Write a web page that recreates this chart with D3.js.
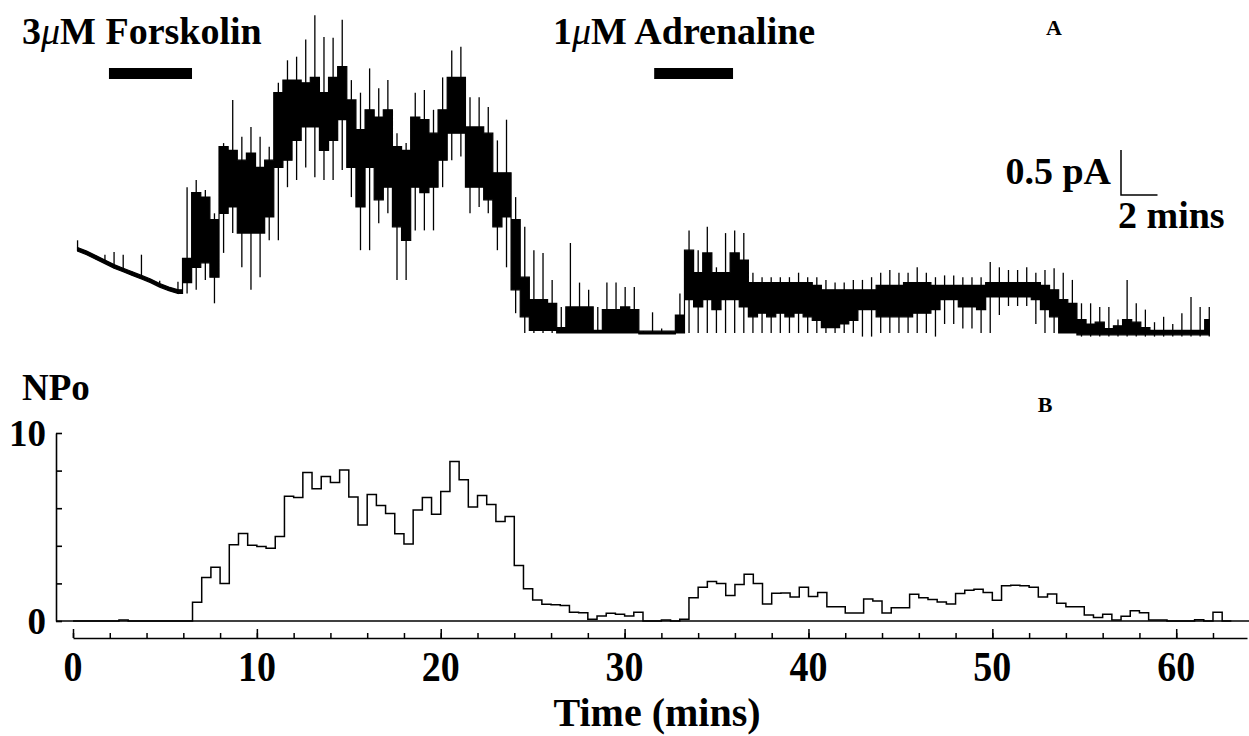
<!DOCTYPE html>
<html><head><meta charset="utf-8">
<script src="https://cdn.jsdelivr.net/npm/d3@7/dist/d3.min.js"></script>
<style>
body{margin:0;background:#fff}
svg{display:block}
text{font-family:"Liberation Serif","Times New Roman",serif;font-weight:bold;fill:#000}
</style>
</head><body>
<svg id="chart" width="1249" height="736"></svg>
<script>
// ---------- DATA ----------
const binWidth = 0.5; // minutes per bin

// Panel B: NPo per 0.5-min bin, bins starting at t = 0, 0.5, 1.0 ...
const npo = [
 0,0,0,0,0,0.05,0,0,0,0,0,0,0,
 1.0,2.31,2.86,2.0,4.05,4.65,4.03,3.96,3.87,4.49,6.63,6.57,7.9,7.03,7.69,7.37,8.03,
 6.6,5.1,6.73,6.15,5.72,4.64,4.1,5.9,6.57,5.68,6.89,8.49,7.51,6.07,6.68,6.2,5.29,5.56,
 2.95,1.71,1.12,0.89,0.87,0.82,0.46,0.44,0.09,0.27,0.41,0.36,0.27,0.46,
 0,0,0.05,0,0.09,
 1.24,1.79,2.1,2.0,1.35,1.94,2.49,2.0,0.9,1.47,1.49,1.28,1.79,1.3,1.51,
 0.76,0.76,0.43,0.43,1.17,1.07,0.43,0.71,0.71,1.42,1.24,1.15,1.01,0.9,
 1.46,1.63,1.69,1.51,1.1,1.87,1.9,1.88,1.79,1.28,1.44,0.94,0.76,0.76,
 0.32,0.18,0.36,0.05,0.25,0.55,0.44,0.05,0.05,0,0,0,0.07,0,0.46,0
];

// Panel A: current trace (pA above closed level), per 0.5-min bin
const traceCoreHi = [
 0.95,0.91,0.86,0.81,0.76,0.72,0.68,0.64,0.60,0.55,0.51,0.48,
 0.83,1.56,1.51,1.26,2.07,2.03,1.92,2.00,1.84,1.92,2.67,2.81,2.81,2.78,2.84,2.67,2.84,2.96,
 2.59,2.26,2.48,2.40,2.48,2.07,2.03,2.40,2.37,2.22,2.48,2.84,2.84,2.29,2.29,2.22,1.78,1.78,
 1.26,0.62,0.37,0.37,0.33,0.06,0.29,0.29,0.29,0.03,0.26,0.26,0.29,0.26,
 0.02,0.02,0.02,0.02,0.20,
 0.92,0.67,0.89,0.67,0.67,0.89,0.81,0.56,0.56,0.56,0.56,0.56,0.56,0.56,0.53,
 0.48,0.48,0.48,0.48,0.48,0.48,0.53,0.53,0.53,0.56,0.56,0.56,0.53,0.53,0.53,0.53,0.53,0.53,
 0.56,0.56,0.56,0.56,0.56,0.56,0.53,0.48,0.37,0.33,
 0.15,0.10,0.12,0.05,0.08,0.15,0.12,0.06,0.03,0.03,0.03,0.03,0.03,0.03,0.15
];
const traceCoreLo = [
 0.91,0.87,0.82,0.77,0.72,0.68,0.64,0.60,0.56,0.51,0.47,0.44,
 0.56,0.73,0.78,0.62,1.33,1.40,1.11,1.11,1.11,1.29,1.84,1.92,2.14,2.29,2.29,2.03,2.14,2.37,
 1.84,1.40,1.84,1.48,1.62,1.18,1.03,1.62,1.56,1.62,1.92,2.22,2.22,1.62,1.62,1.48,1.18,1.29,
 0.48,0.18,0.03,0.03,0.03,0,0,0,0,0,0,0,0,0,
 -0.01,-0.01,-0.01,-0.01,0,
 0.37,0.29,0.37,0.26,0.37,0.37,0.29,0.18,0.22,0.18,0.22,0.18,0.22,0.18,0.14,
 0.06,0.06,0.10,0.14,0.26,0.26,0.18,0.18,0.18,0.18,0.22,0.22,0.26,0.37,0.37,0.29,0.29,0.26,
 0.40,0.40,0.40,0.40,0.40,0.37,0.26,0.18,0,0,
 -0.02,-0.02,-0.02,-0.02,-0.02,-0.02,-0.02,-0.02,-0.02,-0.02,-0.02,-0.02,-0.02,-0.02,-0.02
];
const tracePeakHi = [
 1.03,0.91,0.86,0.87,0.90,0.87,0.68,0.87,0.60,0.58,0.51,0.57,
 1.62,1.70,1.59,1.33,2.11,2.59,2.18,2.29,2.18,2.07,2.78,3.03,3.07,3.26,3.53,3.29,3.28,3.48,
 2.81,2.67,2.94,2.72,2.81,2.22,2.11,2.67,2.70,2.48,2.84,3.14,3.18,2.62,2.62,2.51,2.14,2.37,
 1.51,1.18,0.92,0.89,0.59,0.29,1.00,0.56,0.48,0.29,0.56,0.56,0.51,0.51,
 0.02,0.23,0.05,0.02,0.44,
 1.14,0.92,1.18,0.73,1.11,1.14,1.11,0.67,0.62,0.62,0.62,0.62,0.67,0.62,0.62,
 0.59,0.56,0.56,0.59,0.59,0.62,0.67,0.70,0.67,0.67,0.73,0.67,0.62,0.64,0.64,0.62,0.62,0.62,
 0.79,0.73,0.70,0.70,0.73,0.67,0.70,0.72,0.67,0.59,
 0.33,0.33,0.29,0.29,0.15,0.59,0.33,0.26,0.12,0.18,0.10,0.22,0.40,0.29,0.29
];
const tracePeakLo = [
 0.91,0.87,0.82,0.77,0.72,0.68,0.64,0.60,0.56,0.51,0.47,0.44,
 0.44,0.48,0.59,0.33,0.89,1.11,0.73,0.48,0.62,1.03,1.03,1.62,1.70,1.84,1.73,1.70,1.70,1.81,
 1.51,0.92,0.92,1.22,1.33,0.59,0.59,1.14,1.14,1.14,1.62,1.92,1.96,1.33,1.40,1.33,0.92,0.73,
 0.22,0,0,0,0,0,0,0,0,0,0,0,0,0,
 -0.01,-0.01,-0.01,-0.01,0,
 0,0,0,0,0,0,0,0,0,0,0,0,0,0,0,
 0,0,0,0,-0.04,-0.04,0,0,0,0,0,0,-0.04,0.10,0.10,0.05,0.05,0,
 0,0.20,0.30,0.30,0.30,0.10,0,0,0,0,
 -0.04,-0.04,-0.04,-0.04,-0.04,-0.04,-0.04,-0.04,-0.04,-0.04,-0.04,-0.04,-0.04,-0.04,-0.04
];

const xTickLabels = [0,10,20,30,40,50,60];
const xMinorTicks = d3.range(0, 64, 2);
const yTickLabels = [0,10];
const yTicks = [0,2,4,6,8,10];
const drugConc = ["3", "1"];
const drugNames = ["M Forskolin", "M Adrenaline"];
const drugStart = [1.97, 31.84];
const drugEnd = [6.52, 36.16];
const scaleBarPA = 0.5, scaleBarMin = 2;

// ---------- SCALES ----------
const svg = d3.select("#chart");
const xB = d3.scaleLinear().domain([0, 63.85]).range([73, 1247]);
const yB = d3.scaleLinear().domain([0, 10]).range([621, 433]);
const xA = d3.scaleLinear().domain([0, 62.4]).range([73, 1212]);
const yA = d3.scaleLinear().domain([0, 1]).range([333, 243]);

// ---------- PANEL A ----------
const trace = traceCoreHi.map((h, i) => ({t: (i + 0.5) * binWidth, hi: h, lo: traceCoreLo[i], ph: tracePeakHi[i], pl: tracePeakLo[i]}));
const gA = svg.append("g");
gA.append("path").datum(trace.slice(0, 12))
  .attr("d", d3.area().x(d => xA(d.t)).y0(d => yA(d.lo)).y1(d => yA(d.hi)).curve(d3.curveLinear))
  .attr("fill", "#000").attr("stroke", "#000").attr("stroke-width", 1.2);
gA.append("path").datum(trace.slice(11))
  .attr("d", d3.area().x(d => xA(d.t)).y0(d => yA(d.lo)).y1(d => yA(d.hi)).curve(d3.curveStep))
  .attr("fill", "#000").attr("stroke", "#000").attr("stroke-width", 1.2);
gA.selectAll("line.spk").data(trace).join("line").attr("class", "spk")
  .attr("x1", d => xA(d.t)).attr("x2", d => xA(d.t))
  .attr("y1", d => yA(d.pl)).attr("y2", d => yA(d.ph))
  .attr("stroke", "#000").attr("stroke-width", 1.3);

// drug application bars + labels
gA.selectAll("rect.drug").data(drugStart).join("rect").attr("class", "drug")
  .attr("x", (d) => xA(d)).attr("width", (d, i) => xA(drugEnd[i]) - xA(d))
  .attr("y", 68).attr("height", 11).attr("fill", "#000");
const labX = [22, 553];
drugNames.forEach((n, i) => {
  const t = gA.append("text").attr("x", labX[i]).attr("y", 44).attr("font-size", 38);
  t.append("tspan").text(drugConc[i]);
  t.append("tspan").attr("font-style", "italic").attr("font-weight", "normal").text("\u03BC");
  t.append("tspan").text(n);
});
gA.append("text").attr("x", 1054).attr("y", 35).attr("font-size", 22).attr("text-anchor", "middle").text("A");

// scale bar
const sbx = 1121, sby = 195;
gA.append("path")
  .attr("d", `M${sbx},${sby - (yA(0) - yA(scaleBarPA))}V${sby}H${sbx + (xA(scaleBarMin) - xA(0))}`)
  .attr("fill", "none").attr("stroke", "#000").attr("stroke-width", 1.5);
gA.append("text").attr("x", 1111).attr("y", 184).attr("font-size", 38).attr("text-anchor", "end").text(scaleBarPA + " pA");
gA.append("text").attr("x", 1118).attr("y", 228).attr("font-size", 38).text(scaleBarMin + " mins");

// ---------- PANEL B ----------
const gB = svg.append("g");
gB.append("line").attr("x1", 56).attr("x2", 1249).attr("y1", yB(0)).attr("y2", yB(0))
  .attr("stroke", "#000").attr("stroke-width", 1.5);
const yAxis = d3.axisRight(yB).tickValues(yTicks).tickSize(6).tickSizeOuter(0).tickFormat("");
gB.append("g").attr("transform", "translate(56,0)").call(yAxis)
  .call(g => g.selectAll("path,line").attr("stroke", "#000").attr("stroke-width", 1.6));
gB.selectAll("text.ylab").data(yTickLabels).join("text").attr("class", "ylab")
  .attr("x", 46).attr("y", d => yB(d) + 13)
  .attr("text-anchor", "end").attr("font-size", 37).text(d => d);
gB.append("text").attr("x", 22).attr("y", 400).attr("font-size", 37).text("NPo");
gB.append("text").attr("x", 1045).attr("y", 412).attr("font-size", 22).attr("text-anchor", "middle").text("B");

// step histogram
const steps = npo.map((v, i) => [i * binWidth, v]);
steps.push([npo.length * binWidth, 0]);
gB.append("path").datum(steps)
  .attr("d", d3.line().x(d => xB(d[0])).y(d => yB(d[1])).curve(d3.curveStepAfter))
  .attr("fill", "none").attr("stroke", "#000").attr("stroke-width", 1.5);

// x axis (ticks point up)
const axisY = 638;
gB.append("g").attr("transform", `translate(0,${axisY})`)
  .call(d3.axisTop(xB).tickValues(xMinorTicks).tickSize(5).tickSizeOuter(0).tickFormat(""))
  .call(g => g.selectAll("path,line").attr("stroke", "#000").attr("stroke-width", 1.5));
gB.append("g").attr("transform", `translate(0,${axisY})`)
  .call(d3.axisTop(xB).tickValues(xTickLabels).tickSize(9).tickSizeOuter(0).tickFormat(""))
  .call(g => g.select("path").remove())
  .call(g => g.selectAll("line").attr("stroke", "#000").attr("stroke-width", 1.5));
gB.selectAll("text.xlab").data(xTickLabels).join("text").attr("class", "xlab")
  .attr("transform", d => `translate(${xB(d)},681) scale(1,1.12)`).attr("text-anchor", "middle")
  .attr("font-size", 38).text(d => d);
gB.append("text").attr("x", 657).attr("y", 726).attr("text-anchor", "middle")
  .attr("font-size", 40).text("Time (mins)");
</script>
</body></html>
